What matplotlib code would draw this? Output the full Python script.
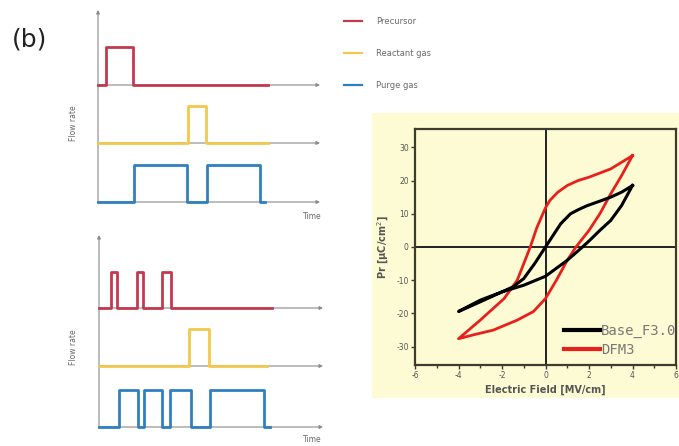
import matplotlib
matplotlib.use("Agg")
import matplotlib.pyplot as plt
from matplotlib.lines import Line2D

plt.rcParams["axes.unicode_minus"] = False

W, H = 679, 446

# ---------------- data ----------------
channels = ["Precursor", "Reactant gas", "Purge gas"]
colors = ["#c23a4e", "#f2c94c", "#2f80c0"]

# top schematic (time units, pulse start/end)
top_pulses = [[(8, 35)], [(90, 108)], [(36, 89), (109, 162)]]
top_ends = [170, 170, 167]
top_base = [117, 59, 0]
top_height = [38, 37, 37]

# bottom schematic
bot_pulses = [[(12, 18), (38, 44), (63, 72)], [(90, 110)],
              [(20, 39), (45, 63), (71, 92), (111, 165)]]
bot_ends = [173, 168, 171]
bot_base = [119, 61, 0]
bot_height = [36, 37, 37]

# hysteresis loops
blk_up_E = [4, 3.5, 3, 2.5, 1.9, 1.5, 1.15, 0.7, 0.1, -0.5, -1, -1.5, -2, -3, -4]
blk_up_P = [18.5, 16.5, 15, 13.8, 12.4, 11.2, 10, 7, 1, -5, -9.5, -12, -13.5, -16.5, -19.4]
blk_lo_E = [-4, -3, -2, -1, 0, 1, 1.7, 2, 2.5, 3, 3.5, 4]
blk_lo_P = [-19.4, -16, -13.5, -11.5, -8.8, -4, 0, 1.8, 5, 8, 12.5, 18.5]

red_up_E = [4, 3, 2, 1.5, 1, 0.55, 0.2, 0, -0.4, -0.7, -1, -1.3, -1.9, -3, -4]
red_up_P = [27.5, 23.5, 21, 20, 18.5, 16.4, 14, 11.8, 5.8, 0, -5, -10, -15.5, -22, -27.6]
red_lo_E = [-4, -3.3, -2.4, -1.3, -0.55, 0, 0.5, 1, 1.4, 2, 2.5, 3, 3.5, 4]
red_lo_P = [-27.6, -26.4, -25, -22, -19.4, -15.5, -10, -4, 0, 5, 10, 16, 21.5, 27.5]

loop_labels = ["Base_F3.0", "DFM3"]
loop_colors = ["black", "#e8201c"]

x_ticks = [-6, -4, -2, 0, 2, 4, 6]
y_ticks = [-30, -20, -10, 0, 10, 20, 30]

# ---------------- figure ----------------
fig = plt.figure(figsize=(W / 100, H / 100), dpi=100)
fig.patch.set_facecolor("white")

def fx(px):
    return px / W

def fy(py):
    return 1 - py / H

def waveform(pulses, end):
    xs, ys = [0], [0]
    for a, b in pulses:
        xs += [a, a, b, b]
        ys += [0, 1, 1, 0]
    xs.append(end)
    ys.append(0)
    return xs, ys

def schematic(rect, xlim, ylim, pulses, ends, bases, heights, arrow_end, ytop):
    ax = fig.add_axes(rect)
    ax.set_xlim(*xlim)
    ax.set_ylim(*ylim)
    ax.axis("off")
    gray = "#8a8a8a"
    ax.annotate("", xy=(0, ytop), xytext=(0, -1),
                arrowprops=dict(arrowstyle="-|>", color=gray, lw=0.8,
                                mutation_scale=5, shrinkA=0, shrinkB=0))
    for p, e, b, h, c in zip(pulses, ends, bases, heights, colors):
        ax.annotate("", xy=(arrow_end, b), xytext=(0, b),
                    arrowprops=dict(arrowstyle="-|>", color=gray, lw=0.8,
                                    mutation_scale=5, shrinkA=0, shrinkB=0))
        xs, ys = waveform(p, e)
        ax.plot(xs, [b + h * y for y in ys], color=c, lw=2.0,
                solid_joinstyle="round", zorder=3)
    return ax

schematic([fx(96), fy(208), fx(324) - fx(96), fy(6) - fy(208)],
          (-2, 226), (-6, 196), top_pulses, top_ends, top_base, top_height,
          222, 192)
schematic([fx(97), fy(433), fx(327) - fx(97), fy(233) - fy(433)],
          (-2, 228), (-6, 194), bot_pulses, bot_ends, bot_base, bot_height,
          224, 192)

txtgray = "#6a6a6a"
fig.text(fx(12), fy(40), "(b)", fontsize=18, ha="left", va="center", color="#222222")
fig.text(fx(312), fy(216), "Time", fontsize=5.5, ha="center", va="center", color=txtgray)
fig.text(fx(312), fy(440), "Time", fontsize=5.5, ha="center", va="center", color=txtgray)
fig.text(fx(74), fy(123), "Flow rate", fontsize=5.5, ha="center", va="center",
         rotation=90, color=txtgray)
fig.text(fx(74), fy(347), "Flow rate", fontsize=5.5, ha="center", va="center",
         rotation=90, color=txtgray)

# top legend
handles = [Line2D([], [], color=c, lw=1.6) for c in colors]
fig.legend(handles, channels, loc="upper left",
           bbox_to_anchor=(fx(344), fy(17)), frameon=False, fontsize=6,
           handlelength=2.1, handletextpad=1.7, labelspacing=2.75,
           borderpad=0, borderaxespad=0, labelcolor=txtgray)

# yellow background panel (behind the axes)
bg = fig.add_axes([fx(372), fy(398), fx(679) - fx(372), fy(113) - fy(398)], zorder=-5)
bg.set_facecolor("#fdfbd3")
bg.set_xticks([])
bg.set_yticks([])
for s in bg.spines.values():
    s.set_visible(False)

# hysteresis axes
ax = fig.add_axes([fx(415), fy(365), fx(676) - fx(415), fy(129) - fy(365)], zorder=1)
ax.set_facecolor("#fdfbd3")
ax.set_xlim(-6, 6)
ax.set_ylim(-35.5, 35.5)
ax.axhline(0, color="#222222", lw=1.4, zorder=1)
ax.axvline(0, color="#222222", lw=1.4, zorder=1)
ax.plot(blk_up_E + blk_lo_E, blk_up_P + blk_lo_P, color=loop_colors[0], lw=2.2,
        label=loop_labels[0], zorder=3)
ax.plot(red_up_E + red_lo_E, red_up_P + red_lo_P, color=loop_colors[1], lw=2.0,
        label=loop_labels[1], zorder=2)
ax.set_xticks(x_ticks)
ax.set_xticks([-5, -3, -1, 1, 3, 5], minor=True)
ax.set_yticks(y_ticks)
for s in ax.spines.values():
    s.set_color("#3c3c30")
    s.set_linewidth(1.6)
ax.tick_params(which="both", direction="out", length=3, width=1.0, color="#3c3c30",
               labelsize=5.5, labelcolor="#555555", pad=1.5)
ax.tick_params(which="minor", length=2)
ax.set_xlabel("Electric Field [MV/cm]", fontsize=7, fontweight="bold",
              color="#555555", labelpad=3)
ax.set_ylabel("Pr [μC/cm$^2$]", fontsize=7, fontweight="bold", color="#555555",
              labelpad=4)
leg = ax.legend(loc="lower right", bbox_to_anchor=(1.0, 0.035), frameon=False,
                prop={"family": "DejaVu Sans Mono", "size": 10},
                handlelength=2.6, handletextpad=0.05, labelspacing=0.35,
                borderpad=0, borderaxespad=0, labelcolor="#777777")
for line in leg.get_lines():
    line.set_linewidth(3)

fig.savefig("out.png", dpi=100)
